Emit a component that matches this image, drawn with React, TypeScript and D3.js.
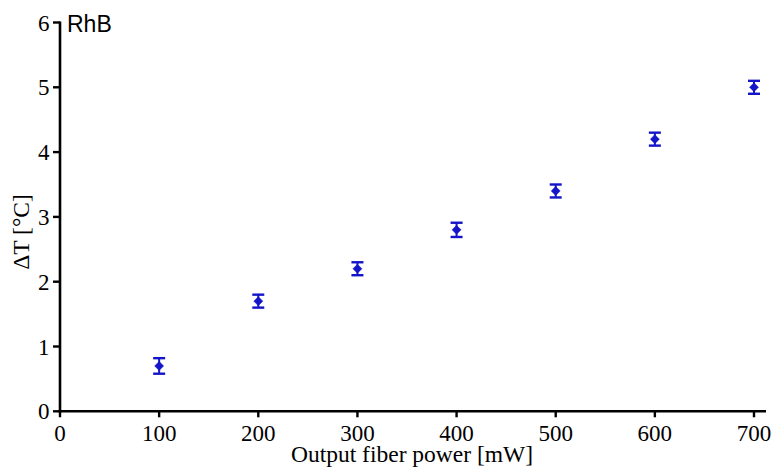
import React from "react";
import * as d3 from "d3";

const powers = [100, 200, 300, 400, 500, 600, 700];
const deltaT = [0.7, 1.7, 2.2, 2.8, 3.4, 4.2, 5.0];
const errors = [0.12, 0.1, 0.1, 0.11, 0.1, 0.1, 0.1];
const xTicks = [0, 100, 200, 300, 400, 500, 600, 700];
const yTicks = [0, 1, 2, 3, 4, 5, 6];

export default function App() {
  const W = 774, H = 470;
  const x = d3.scaleLinear().domain([0, 700]).range([60, 754]);
  const y = d3.scaleLinear().domain([0, 6]).range([411.3, 22.5]);
  const blue = "#1414c8";
  const serif = "'Liberation Serif', 'Times New Roman', serif";
  return (
    <svg width={W} height={H} style={{ position: "absolute", left: 0, top: 0, background: "#fff" }}>
      <line x1={x(0)} x2={x(0)} y1={y(6) - 1} y2={y(0) + 1.2} stroke="#000" strokeWidth={2.6} />
      <line x1={x(0) - 1.3} x2={766} y1={y(0)} y2={y(0)} stroke="#000" strokeWidth={2.6} />
      {yTicks.map((t) => (
        <g key={"y" + t}>
          <line x1={x(0) - 7} x2={x(0)} y1={y(t)} y2={y(t)} stroke="#000" strokeWidth={2.4} />
          <text x={49.5} y={y(t)} dy="0.35em" textAnchor="end" fontFamily={serif} fontSize={23}>{t}</text>
        </g>
      ))}
      {xTicks.map((t) => (
        <g key={"x" + t}>
          <line x1={x(t)} x2={x(t)} y1={y(0)} y2={y(0) + 6} stroke="#000" strokeWidth={2.4} />
          <text x={x(t)} y={441} textAnchor="middle" fontFamily={serif} fontSize={23}>{t}</text>
        </g>
      ))}
      <text x={412} y={462} textAnchor="middle" fontFamily={serif} fontSize={23.5}>Output fiber power [mW]</text>
      <text transform={`translate(29,232) rotate(-90)`} textAnchor="middle" fontFamily={serif} fontSize={23.5}>ΔT [°C]</text>
      <text x={67} y={31.5} fontFamily="'Liberation Sans', Arial, sans-serif" fontSize={23}>RhB</text>
      {powers.map((p, i) => {
        const cx = x(p), cy = y(deltaT[i]);
        const yt = y(deltaT[i] + errors[i]), yb = y(deltaT[i] - errors[i]);
        const s = 4.5;
        return (
          <g key={"p" + p} stroke={blue} fill={blue}>
            <line x1={cx} x2={cx} y1={yt} y2={yb} strokeWidth={2} />
            <line x1={cx - 6} x2={cx + 6} y1={yt} y2={yt} strokeWidth={2.4} />
            <line x1={cx - 6} x2={cx + 6} y1={yb} y2={yb} strokeWidth={2.4} />
            <path d={`M${cx},${cy - s}L${cx + s},${cy}L${cx},${cy + s}L${cx - s},${cy}Z`} strokeWidth={0.5} />
          </g>
        );
      })}
    </svg>
  );
}
